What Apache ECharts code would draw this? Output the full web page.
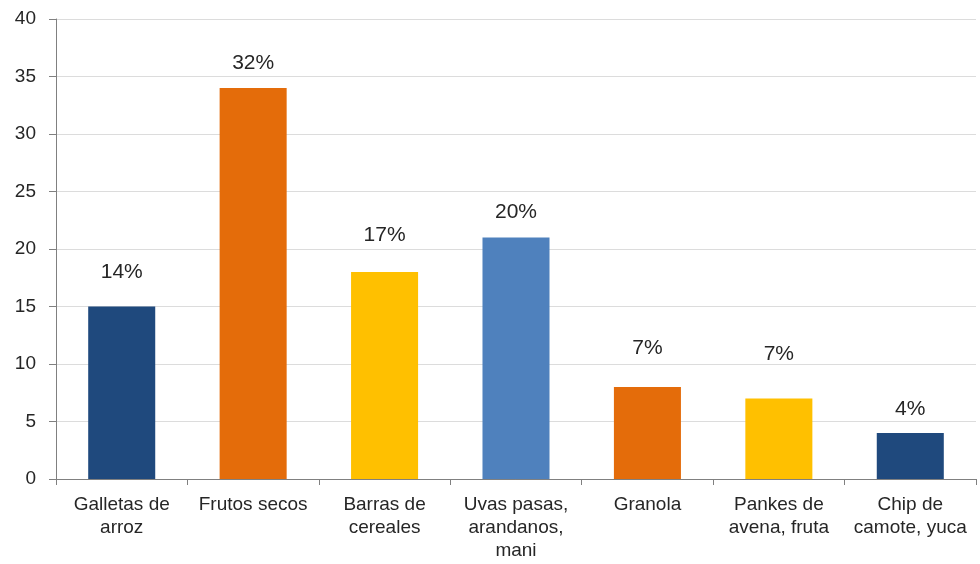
<!DOCTYPE html>
<html>
<head>
<meta charset="utf-8">
<script src="https://cdn.jsdelivr.net/npm/echarts@6/dist/echarts.min.js"></script>
<style>
html,body{margin:0;padding:0;background:#fff;}
#chart{width:980px;height:564px;}
</style>
</head>
<body>
<div id="chart"></div>
<script>
const categories = ["Galletas de\narroz", "Frutos secos", "Barras de\ncereales", "Uvas pasas,\narandanos,\nmani", "Granola", "Pankes de\navena, fruta", "Chip de\ncamote, yuca"];
const values = [15, 34, 18, 21, 8, 7, 4];
const percentLabels = ["14%", "32%", "17%", "20%", "7%", "7%", "4%"];
const yTicks = [0, 5, 10, 15, 20, 25, 30, 35, 40];

// styling (not data)
const barColors = ["#1F497D", "#E46C0A", "#FFC000", "#4F81BD", "#E46C0A", "#FFC000", "#1F497D"];
const labelGaps = [24, 14, 26, 15, 28, 34, 13];

const chart = echarts.init(document.getElementById('chart'), null, {renderer: 'canvas'});
const font = '"Liberation Sans", Arial, sans-serif';
chart.setOption({
  animation: false,
  backgroundColor: '#ffffff',
  grid: {left: 56, right: 4, top: 19, bottom: 85, containLabel: false},
  xAxis: {
    type: 'category',
    data: categories,
    axisLine: {show: true, lineStyle: {color: '#808080', width: 1}},
    axisTick: {show: true, length: 6, lineStyle: {color: '#808080'}},
    axisLabel: {
      interval: 0, margin: 14, color: '#262626', fontSize: 19, lineHeight: 23,
      fontFamily: font, align: 'center'
    },
    splitLine: {show: false}
  },
  yAxis: {
    type: 'value',
    min: yTicks[0], max: yTicks[yTicks.length - 1], interval: 5,
    axisLine: {show: true, lineStyle: {color: '#808080', width: 1}},
    axisTick: {show: true, length: 7, lineStyle: {color: '#808080'}},
    axisLabel: {margin: 20, color: '#262626', fontSize: 19, fontFamily: font},
    splitLine: {show: true, lineStyle: {color: '#dcdcdc', width: 1}}
  },
  series: [{
    type: 'bar',
    barWidth: '51%',
    data: values.map((v, i) => ({
      value: v,
      itemStyle: {color: barColors[i]},
      label: {
        show: true, position: 'top', distance: labelGaps[i],
        formatter: percentLabels[i], color: '#262626', fontSize: 21, fontFamily: font
      }
    }))
  }]
});
</script>
</body>
</html>
